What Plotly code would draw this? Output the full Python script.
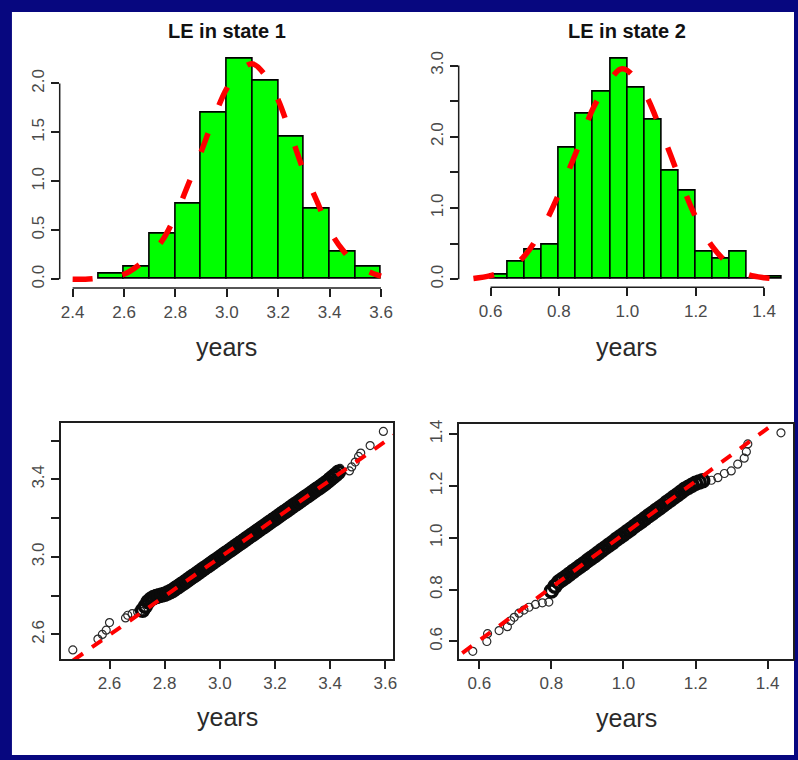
import plotly.graph_objects as go

W, H = 798, 760

# ---------------- data ----------------
# LE in state 1 : histogram (density scale)
s1_edges = [2.5, 2.6, 2.7, 2.8, 2.9, 3.0, 3.1, 3.2, 3.3, 3.4, 3.5, 3.6]
s1_density = [0.06, 0.125, 0.46, 0.77, 1.70, 2.25, 2.03, 1.46, 0.725, 0.285, 0.125]
s1_curve_x = [2.40, 2.45, 2.50, 2.55, 2.60, 2.65, 2.70, 2.75, 2.80, 2.85, 2.90, 2.95, 3.00,
              3.05, 3.10, 3.15, 3.20, 3.25, 3.30, 3.35, 3.40, 3.45, 3.50, 3.55, 3.60]
s1_curve_y = [0.0, 0.0, 0.01, 0.02, 0.05, 0.13, 0.25, 0.40, 0.65, 0.97, 1.30, 1.65, 1.95,
              2.13, 2.20, 2.08, 1.83, 1.47, 1.10, 0.80, 0.50, 0.30, 0.16, 0.08, 0.03]
s1_xticks = [2.4, 2.6, 2.8, 3.0, 3.2, 3.4, 3.6]
s1_yticks = [0.0, 0.5, 1.0, 1.5, 2.0]
s1_ylabels = ["0.0", "0.5", "1.0", "1.5", "2.0"]

# LE in state 2 : histogram (density scale)
s2_edges = [0.60, 0.65, 0.70, 0.75, 0.80, 0.85, 0.90, 0.95, 1.00, 1.05, 1.10, 1.15,
            1.20, 1.25, 1.30, 1.35, 1.40, 1.45]
s2_density = [0.06, 0.24, 0.41, 0.48, 1.85, 2.33, 2.63, 3.10, 2.69, 2.24, 1.52, 1.24,
              0.39, 0.29, 0.39, 0.0, 0.03]
s2_curve_x = [0.55, 0.60, 0.65, 0.70, 0.75, 0.80, 0.85, 0.90, 0.95, 0.98, 1.00, 1.05,
              1.10, 1.15, 1.20, 1.25, 1.30, 1.35, 1.40, 1.45]
s2_curve_y = [0.01, 0.05, 0.13, 0.33, 0.70, 1.20, 1.78, 2.40, 2.80, 2.95, 2.93, 2.62,
              2.07, 1.45, 0.87, 0.45, 0.20, 0.07, 0.02, 0.0]
s2_xticks = [0.6, 0.8, 1.0, 1.2, 1.4]
s2_yticks = [0.0, 0.5, 1.0, 1.5, 2.0, 2.5, 3.0]
s2_ylabels = ["0.0", "", "1.0", "", "2.0", "", "3.0"]

# Normal Q-Q plot, state 1 (theoretical x, sample y) - isolated tail points
q1_tail_x = [2.467, 2.558, 2.574, 2.588, 2.600, 2.658, 2.666, 2.682, 2.702, 2.714,
             3.436, 3.470, 3.478, 3.491, 3.503, 3.511, 3.545, 3.593]
q1_tail_y = [2.520, 2.576, 2.600, 2.622, 2.661, 2.685, 2.699, 2.707, 2.716, 2.719,
             3.456, 3.443, 3.464, 3.489, 3.518, 3.535, 3.574, 3.647]
# dense central band
q1_band_x = [2.72, 2.73, 2.74, 2.75, 2.76, 2.77, 2.78, 2.79, 2.80, 2.81, 2.82, 2.83, 2.84,
             2.85, 2.86, 2.87, 2.88, 2.89, 2.90, 2.91, 2.92, 2.93, 2.94, 2.95, 2.96, 2.97,
             2.98, 2.99, 3.00, 3.01, 3.02, 3.03, 3.04, 3.05, 3.06, 3.07, 3.08, 3.09, 3.10,
             3.11, 3.12, 3.13, 3.14, 3.15, 3.16, 3.17, 3.18, 3.19, 3.20, 3.21, 3.22, 3.23,
             3.24, 3.25, 3.26, 3.27, 3.28, 3.29, 3.30, 3.31, 3.32, 3.33, 3.34, 3.35, 3.36,
             3.37, 3.38, 3.39, 3.40, 3.41, 3.42, 3.43]
q1_band_y = [2.725, 2.745, 2.768, 2.782, 2.790, 2.795, 2.800, 2.803, 2.807, 2.813, 2.820,
             2.828, 2.838, 2.847, 2.857, 2.867, 2.877, 2.887, 2.897, 2.907, 2.917, 2.927,
             2.937, 2.947, 2.957, 2.967, 2.977, 2.987, 2.997, 3.007, 3.017, 3.027, 3.037,
             3.047, 3.057, 3.067, 3.077, 3.087, 3.097, 3.107, 3.117, 3.127, 3.137, 3.147,
             3.157, 3.167, 3.177, 3.187, 3.197, 3.207, 3.217, 3.227, 3.237, 3.247, 3.257,
             3.267, 3.277, 3.287, 3.297, 3.307, 3.317, 3.327, 3.337, 3.347, 3.357, 3.367,
             3.377, 3.388, 3.400, 3.412, 3.424, 3.436]
q1_line_x = [2.40, 3.70]
q1_line_y = [2.398, 3.695]
q1_xticks = [2.6, 2.8, 3.0, 3.2, 3.4, 3.6]
q1_yticks = [2.6, 2.8, 3.0, 3.2, 3.4, 3.6]
q1_ylabels = ["2.6", "", "3.0", "", "3.4", ""]

# Normal Q-Q plot, state 2 - isolated tail points
q2_tail_x = [0.582, 0.621, 0.623, 0.655, 0.678, 0.687, 0.697, 0.710, 0.724, 0.738, 0.756,
             0.775, 0.793,
             1.244, 1.262, 1.280, 1.299, 1.317, 1.335, 1.341, 1.345, 1.437]
q2_tail_y = [0.562, 0.600, 0.630, 0.642, 0.657, 0.680, 0.693, 0.709, 0.721, 0.732, 0.743,
             0.749, 0.752,
             1.222, 1.232, 1.248, 1.258, 1.284, 1.307, 1.332, 1.362, 1.405]
# dense central band
q2_band_x = [0.80, 0.81, 0.82, 0.83, 0.84, 0.85, 0.86, 0.87, 0.88, 0.89, 0.90, 0.91, 0.92,
             0.93, 0.94, 0.95, 0.96, 0.97, 0.98, 0.99, 1.00, 1.01, 1.02, 1.03, 1.04, 1.05,
             1.06, 1.07, 1.08, 1.09, 1.10, 1.11, 1.12, 1.13, 1.14, 1.15, 1.16, 1.17, 1.18,
             1.19, 1.20, 1.21, 1.22]
q2_band_y = [0.795, 0.813, 0.829, 0.839, 0.849, 0.859, 0.870, 0.880, 0.890, 0.900, 0.911,
             0.921, 0.931, 0.941, 0.952, 0.962, 0.972, 0.982, 0.993, 1.003, 1.013, 1.023,
             1.033, 1.044, 1.054, 1.064, 1.074, 1.085, 1.095, 1.105, 1.115, 1.125, 1.136,
             1.146, 1.156, 1.166, 1.177, 1.187, 1.195, 1.203, 1.210, 1.215, 1.220]
q2_line_x = [0.45, 1.55]
q2_line_y = [0.450, 1.576]
q2_xticks = [0.6, 0.8, 1.0, 1.2, 1.4]
q2_yticks = [0.6, 0.8, 1.0, 1.2, 1.4]
q2_ylabels = ["0.6", "0.8", "1.0", "1.2", "1.4"]

titles = ["LE in state 1", "LE in state 2"]
xlabel = "years"

# ---------------- styling ----------------
NAVY = "#07077f"
GREEN = "#00ff00"
RED = "#ff0000"
INK = "#1e1e1e"
FAM = "Liberation Sans, Arial, sans-serif"
TICKFONT = dict(family=FAM, size=17, color="#4a4a4a")
LABELFONT = dict(family=FAM, size=25, color="#2a2a2a")
TITLEFONT = dict(family=FAM, size=20, color="#111111")


def px_x(p):
    return p / W


def px_y(p):
    return 1 - p / H


def mids(edges):
    return [(a + b) / 2 for a, b in zip(edges[:-1], edges[1:])]


def widths(edges):
    return [b - a for a, b in zip(edges[:-1], edges[1:])]


fig = go.Figure()

# histograms
fig.add_trace(go.Bar(x=mids(s1_edges), y=s1_density, width=widths(s1_edges),
                     marker=dict(color=GREEN, line=dict(color="black", width=1.6)),
                     xaxis="x", yaxis="y", showlegend=False))
fig.add_trace(go.Scatter(x=s1_curve_x, y=s1_curve_y, mode="lines",
                         line=dict(color=RED, width=5.5, dash="20px,30px", shape="spline"),
                         xaxis="x", yaxis="y", showlegend=False))
fig.add_trace(go.Bar(x=mids(s2_edges), y=s2_density, width=widths(s2_edges),
                     marker=dict(color=GREEN, line=dict(color="black", width=1.6)),
                     xaxis="x2", yaxis="y2", showlegend=False))
fig.add_trace(go.Scatter(x=s2_curve_x, y=s2_curve_y, mode="lines",
                         line=dict(color=RED, width=5.5, dash="21px,31px", shape="spline"),
                         xaxis="x2", yaxis="y2", showlegend=False))

# QQ plots
thin = dict(symbol="circle-open", size=8, color="#2a2a2a", line=dict(width=1.2))
thick = dict(symbol="circle-open", size=12, color="#0a0a0a", line=dict(width=3.5))
for bx, by, tx, ty, lx, ly, xa, ya in [
    (q1_band_x, q1_band_y, q1_tail_x, q1_tail_y, q1_line_x, q1_line_y, "x3", "y3"),
    (q2_band_x, q2_band_y, q2_tail_x, q2_tail_y, q2_line_x, q2_line_y, "x4", "y4"),
]:
    fig.add_trace(go.Scatter(x=tx, y=ty, mode="markers", marker=thin,
                             xaxis=xa, yaxis=ya, showlegend=False))
    fig.add_trace(go.Scatter(x=bx, y=by, mode="markers", marker=thick,
                             xaxis=xa, yaxis=ya, showlegend=False))
    fig.add_trace(go.Scatter(x=lx, y=ly, mode="lines",
                             line=dict(color=RED, width=4, dash="12px,11px"),
                             xaxis=xa, yaxis=ya, showlegend=False))

common = dict(showgrid=False, zeroline=False, ticks="outside", ticklen=8, tickwidth=1.5,
              tickcolor=INK, tickfont=TICKFONT, fixedrange=True)

layout = dict(
    width=W, height=H,
    margin=dict(l=0, r=0, t=0, b=0),
    paper_bgcolor=NAVY,
    plot_bgcolor="rgba(0,0,0,0)",
    bargap=0,
    xaxis=dict(domain=[px_x(60), px_x(395)], range=[2.3497, 3.6466], anchor="y",
               tickvals=s1_xticks, ticktext=[f"{v:.1f}" for v in s1_xticks], showline=False, **common),
    yaxis=dict(domain=[px_y(286), px_y(46)], range=[-0.0914, 2.345], anchor="x",
               tickvals=s1_yticks, ticktext=s1_ylabels, tickangle=-90, showline=False, **common),
    xaxis2=dict(domain=[px_x(461), px_x(797)], range=[0.5069, 1.4844], anchor="y2",
                tickvals=s2_xticks, ticktext=[f"{v:.1f}" for v in s2_xticks], showline=False, **common),
    yaxis2=dict(domain=[px_y(285), px_y(47)], range=[-0.1116, 3.208], anchor="x2",
                tickvals=s2_yticks, ticktext=s2_ylabels, tickangle=-90, showline=False, **common),
    xaxis3=dict(domain=[px_x(61), px_x(395)], range=[2.423, 3.628], anchor="y3",
                tickvals=q1_xticks, ticktext=[f"{v:.1f}" for v in q1_xticks],
                showline=True, mirror=True, linecolor=INK, linewidth=1.5, **common),
    yaxis3=dict(domain=[px_y(659.5), px_y(421.5)], range=[2.4724, 3.6918], anchor="x3",
                tickvals=q1_yticks, ticktext=q1_ylabels, tickangle=-90,
                showline=True, mirror=True, linecolor=INK, linewidth=1.5, **common),
    xaxis4=dict(domain=[px_x(461), px_x(796.5)], range=[0.5429, 1.469], anchor="y4",
                tickvals=q2_xticks, ticktext=[f"{v:.1f}" for v in q2_xticks],
                showline=True, mirror=True, linecolor=INK, linewidth=1.5, **common),
    yaxis4=dict(domain=[px_y(659.5), px_y(422.5)], range=[0.5318, 1.44], anchor="x4",
                tickvals=q2_yticks, ticktext=q2_ylabels, tickangle=-90,
                showline=True, mirror=True, linecolor=INK, linewidth=1.5, **common),
)
fig.update_layout(**layout)

shapes = [
    # white slide panel
    dict(type="rect", xref="paper", yref="paper", x0=px_x(12), x1=1.0, y0=px_y(756), y1=px_y(8),
         fillcolor="white", line=dict(width=0), layer="below"),
    # R-style axis lines spanning only the tick range (histograms)
    dict(type="line", xref="x", yref="y domain", x0=s1_xticks[0], x1=s1_xticks[-1], y0=0, y1=0,
         line=dict(color=INK, width=1.5)),
    dict(type="line", xref="x domain", yref="y", x0=0, x1=0, y0=s1_yticks[0], y1=s1_yticks[-1],
         line=dict(color=INK, width=1.5)),
    dict(type="line", xref="x2", yref="y2 domain", x0=s2_xticks[0], x1=s2_xticks[-1], y0=0, y1=0,
         line=dict(color=INK, width=1.5)),
    dict(type="line", xref="x2 domain", yref="y2", x0=0, x1=0, y0=s2_yticks[0], y1=s2_yticks[-1],
         line=dict(color=INK, width=1.5)),
]
fig.update_layout(shapes=shapes)

annotations = [
    dict(text=f"<b>{titles[0]}</b>", x=px_x(228), y=px_y(27), font=TITLEFONT),
    dict(text=f"<b>{titles[1]}</b>", x=px_x(630), y=px_y(27), font=TITLEFONT),
    dict(text=xlabel, x=px_x(228), y=px_y(345), font=LABELFONT),
    dict(text=xlabel, x=px_x(630), y=px_y(345), font=LABELFONT),
    dict(text=xlabel, x=px_x(229), y=px_y(718), font=LABELFONT),
    dict(text=xlabel, x=px_x(630), y=px_y(719), font=LABELFONT),
]
for a in annotations:
    a.update(xref="paper", yref="paper", showarrow=False, xanchor="center", yanchor="middle")
fig.update_layout(annotations=annotations)

fig.write_html("out.html", config={"displayModeBar": False},
               post_script="document.body.style.margin='0';document.body.style.overflow='hidden';")
